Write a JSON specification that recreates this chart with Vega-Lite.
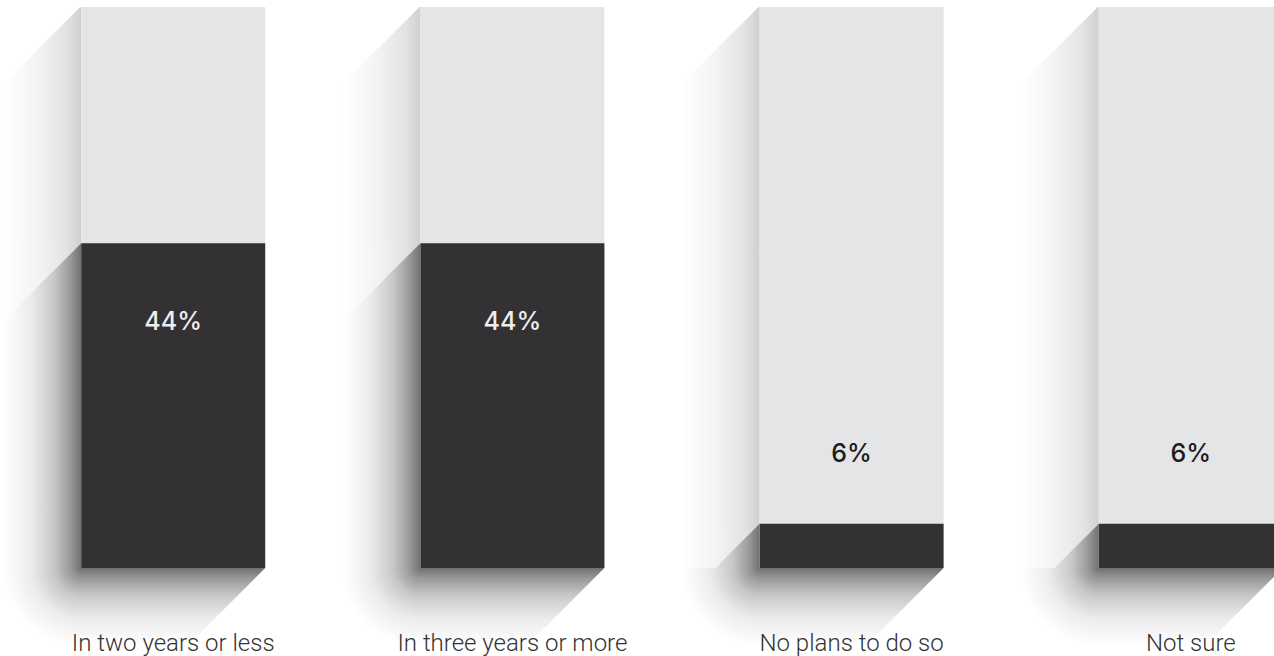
{
  "$schema": "https://vega.github.io/schema/vega-lite/v6.json",
  "width": 1274,
  "height": 561,
  "autosize": {"type": "none"},
  "padding": {"left": 0, "right": 0, "top": 7, "bottom": 88},
  "background": "white",
  "config": {"view": {"stroke": null}},
  "data": {
    "values": [
      {"cat": "In two years or less", "value": 0.44},
      {"cat": "In three years or more", "value": 0.44},
      {"cat": "No plans to do so", "value": 0.06},
      {"cat": "Not sure", "value": 0.06}
    ]
  },
  "encoding": {
    "x": {
      "field": "cat",
      "type": "nominal",
      "sort": null,
      "scale": {"range": [0, 1364], "paddingInner": 0.45755, "paddingOuter": 0.23939},
      "axis": {
        "title": null,
        "labelAngle": 0,
        "labelFont": "Roboto",
        "labelFontWeight": 300,
        "labelFontSize": 24,
        "labelColor": "#333333",
        "labelBaseline": "alphabetic",
        "labelPadding": 82,
        "labelLimit": 400,
        "labelOverlap": false,
        "ticks": false,
        "tickSize": 0,
        "domain": false,
        "zindex": 1
      }
    }
  },
  "layer": [
    {
      "mark": {"type": "bar", "width": 78, "xOffset": -131, "strokeWidth": 0,
        "fill": {"gradient": "linear", "x1": 0, "y1": 0, "x2": 1, "y2": 0,
          "stops": [{"offset": 0, "color": "#ffffff"}, {"offset": 0.45, "color": "#f3f3f3"}, {"offset": 0.8, "color": "#e3e3e3"}, {"offset": 1, "color": "#d0d0d0"}]}},
      "encoding": {
        "y": {"datum": 0.76, "type": "quantitative", "scale": {"domain": [0, 0.76], "nice": false}, "axis": null},
        "y2": {"datum": 0}
      }
    },
    {
      "mark": {"type": "bar", "width": 78, "xOffset": -131, "strokeWidth": 0,
        "fill": {"gradient": "linear", "x1": 0, "y1": 0, "x2": 1, "y2": 0,
          "stops": [{"offset": 0, "color": "#ffffff"}, {"offset": 0.35, "color": "#ececec"}, {"offset": 0.65, "color": "#c8c8c8"}, {"offset": 0.87, "color": "#989898"}, {"offset": 1, "color": "#707070"}]}},
      "encoding": {
        "y": {"field": "value", "type": "quantitative", "scale": {"domain": [0, 0.76], "nice": false}, "axis": null},
        "y2": {"datum": 0}
      }
    },
    {
      "mark": {"type": "point", "shape": "M-0.91,-0.01L-1.70,-0.01L-1.70,0.78Z", "size": 40000, "filled": true, "opacity": 1, "strokeWidth": 0,
        "fill": {"gradient": "linear", "x1": 0, "y1": 0, "x2": 1, "y2": 0,
          "stops": [{"offset": 0, "color": "#ffffff"}, {"offset": 0.45, "color": "#f3f3f3"}, {"offset": 0.8, "color": "#e3e3e3"}, {"offset": 1, "color": "#d0d0d0"}]}},
      "encoding": {
        "y": {"field": "value", "type": "quantitative", "scale": {"domain": [0, 0.76], "nice": false}, "axis": null}
      }
    },
    {
      "mark": {"type": "point", "shape": "M-0.90,-0.03L-1.74,-0.03L-1.74,0.81Z", "size": 40000, "filled": true, "opacity": 1, "strokeWidth": 0, "fill": "#ffffff"},
      "encoding": {
        "y": {"datum": 0.76, "type": "quantitative", "scale": {"domain": [0, 0.76], "nice": false}, "axis": null}
      }
    },
    {
      "mark": {"type": "bar", "width": 156, "xOffset": -92, "strokeWidth": 0,
        "fill": {"gradient": "radial", "x1": 0.5, "y1": 0.25, "r1": 0, "x2": 0.5, "y2": 0.25, "r2": 0.5,
          "stops": [{"offset": 0, "color": "#707070"}, {"offset": 0.13, "color": "#989898"}, {"offset": 0.35, "color": "#c8c8c8"}, {"offset": 0.65, "color": "#ececec"}, {"offset": 1, "color": "#ffffff"}]}},
      "encoding": {
        "y": {"datum": 0, "type": "quantitative", "scale": {"domain": [0, 0.76], "nice": false}, "axis": null},
        "y2": {"datum": -0.1057}
      }
    },
    {
      "mark": {"type": "bar", "strokeWidth": 0,
        "fill": {"gradient": "linear", "x1": 0, "y1": 0, "x2": 0, "y2": 1,
          "stops": [{"offset": 0, "color": "#707070"}, {"offset": 0.13, "color": "#989898"}, {"offset": 0.35, "color": "#c8c8c8"}, {"offset": 0.65, "color": "#ececec"}, {"offset": 1, "color": "#ffffff"}]}},
      "encoding": {
        "y": {"datum": 0, "type": "quantitative", "scale": {"domain": [0, 0.76], "nice": false}, "axis": null},
        "y2": {"datum": -0.1057}
      }
    },
    {
      "mark": {"type": "point", "shape": "M0.92,0L0.97,0L0.97,0.84L0.08,0.84Z", "size": 40000, "filled": true, "opacity": 1, "strokeWidth": 0, "fill": "#ffffff"},
      "encoding": {
        "y": {"datum": 0, "type": "quantitative", "scale": {"domain": [0, 0.76], "nice": false}, "axis": null}
      }
    },
    {
      "mark": {"type": "bar", "fill": "#e4e5e7", "strokeWidth": 0},
      "encoding": {
        "y": {"datum": 0.76, "type": "quantitative", "scale": {"domain": [0, 0.76], "nice": false}, "axis": null},
        "y2": {"datum": 0}
      }
    },
    {
      "mark": {"type": "bar", "fill": "#333133", "strokeWidth": 0},
      "encoding": {
        "y": {"field": "value", "type": "quantitative", "scale": {"domain": [0, 0.76], "nice": false}, "axis": null}
      }
    },
    {
      "transform": [{"filter": "datum.value > 0.2"}],
      "mark": {"type": "text", "font": "Inter", "fontWeight": 500, "fontSize": 25, "color": "#eeeeee", "baseline": "alphabetic", "align": "center", "dy": 87},
      "encoding": {
        "y": {"field": "value", "type": "quantitative", "scale": {"domain": [0, 0.76], "nice": false}, "axis": null},
        "text": {"field": "value", "type": "quantitative", "format": ".0%"}
      }
    },
    {
      "transform": [{"filter": "datum.value <= 0.2"}],
      "mark": {"type": "text", "font": "Inter", "fontWeight": 500, "fontSize": 25, "color": "#1c1c1c", "baseline": "alphabetic", "align": "center", "dy": -62},
      "encoding": {
        "y": {"field": "value", "type": "quantitative", "scale": {"domain": [0, 0.76], "nice": false}, "axis": null},
        "text": {"field": "value", "type": "quantitative", "format": ".0%"}
      }
    }
  ]
}
